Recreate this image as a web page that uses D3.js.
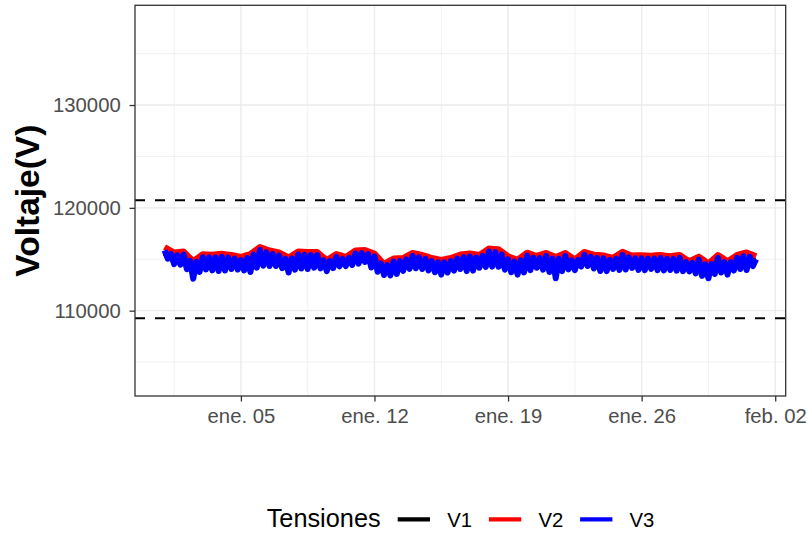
<!DOCTYPE html>
<html>
<head>
<meta charset="utf-8">
<script src="https://cdn.jsdelivr.net/npm/d3@7"></script>
<style>
  body { margin: 0; background: #fff; }
  text { font-family: "Liberation Sans", Arial, sans-serif; }
</style>
</head>
<body>
<svg id="chart" width="808" height="535"></svg>
<script>
// Series / legend
const seriesNames = ["V1", "V2", "V3"];
const seriesColors = ["#000000", "#FF0000", "#0000FF"];
const legendTitle = "Tensiones";
const yTitle = "Voltaje(V)";

// limits (dashed lines)
const limitValues = [120750, 109250];

// y ticks
const yTicks = [110000, 120000, 130000];
const yMinorTicks = [105000, 115000, 125000, 135000];
const yDomain = [101700, 139700];

// x ticks
const xTickDates = ["2015-01-05", "2015-01-12", "2015-01-19", "2015-01-26", "2015-02-02"];
const xTickLabels = ["ene. 05", "ene. 12", "ene. 19", "ene. 26", "feb. 02"];
const xMinorDates = ["2015-01-01T12:00Z", "2015-01-08T12:00Z", "2015-01-15T12:00Z", "2015-01-22T12:00Z", "2015-01-29T12:00Z"];

// readings, starting 2015-01-01 00:00, sampled every N hours
const startTime = Date.UTC(2015, 0, 1);
const stepHours = [12, 6, 4];

const v1Values = [
  115610, 115070, 115070, 114010, 114750, 114670, 114660, 114710, 114580, 114610,
  115270, 115070, 114980, 114420, 114920, 114860, 114950, 114370, 114880, 114760,
  115160, 115290, 114730, 113980, 114230, 114480, 114860, 114710, 114470, 114200,
  114440, 114740, 114640, 114770, 115150, 115100, 114540, 114210, 114710, 114720,
  114730, 114320, 114810, 114440, 115060, 114750, 114540, 114570, 114800, 114730,
  114610, 114680, 114630, 114600, 114620, 114290, 114370, 113840, 114590, 114140,
  114740, 114780, 114890
];

const v2Values = [
  116190, 115920, 115640, 115700, 115750, 115290, 114830, 115160, 115490, 115470,
  115450, 115490, 115530, 115470, 115410, 115320, 115220, 115370, 115510, 115850,
  116190, 116020, 115850, 115760, 115660, 115420, 115170, 115460, 115750, 115730,
  115710, 115710, 115710, 115320, 114930, 115220, 115510, 115370, 115220, 115540,
  115850, 115880, 115900, 115730, 115560, 115050, 114540, 114810, 115070, 115100,
  115120, 115370, 115610, 115510, 115410, 115270, 115120, 115030, 114930, 115030,
  115120, 115290, 115460, 115510, 115560, 115490, 115410, 115730, 116050, 116010,
  115970, 115630, 115290, 115120, 114950, 115300, 115640, 115480, 115320, 115470,
  115610, 115420, 115220, 115420, 115610, 115300, 114980, 115350, 115710, 115580,
  115440, 115410, 115370, 115260, 115140, 115430, 115720, 115540, 115360, 115380,
  115390, 115370, 115340, 115380, 115410, 115350, 115290, 115360, 115420, 115110,
  114800, 115030, 115260, 114930, 114590, 115000, 115410, 115110, 114800, 115110,
  115420, 115540, 115660, 115480, 115290
];

const v3Values = [
  115860, 115050, 115520, 114530, 115390, 114470, 115460, 114030, 114850, 113100,
  114760, 113770, 115200, 114010, 115180, 113920, 115190, 113860, 115240, 113910,
  115160, 114050, 115060, 114000, 114930, 113910, 115120, 113760, 115450, 114180,
  115900, 114370, 115670, 114340, 115500, 114340, 115370, 114130, 115040, 113710,
  115080, 113990, 115460, 114100, 115430, 114050, 115420, 114180, 115420, 114110,
  114900, 113840, 114830, 114140, 115220, 114310, 115030, 114340, 115140, 114450,
  115560, 114580, 115590, 114730, 115500, 114200, 115270, 113780, 114590, 113470,
  114430, 113430, 114780, 113570, 114820, 113870, 114990, 114060, 115320, 114120,
  115190, 114050, 115030, 113920, 114830, 113740, 114700, 113510, 114700, 113710,
  114830, 113890, 115060, 114050, 115200, 113850, 115270, 113890, 115170, 114170,
  115330, 114250, 115750, 114280, 115700, 114270, 115450, 113980, 115000, 113730,
  114770, 113510, 114890, 113720, 115350, 113940, 115130, 114170, 115120, 113990,
  115320, 113760, 115060, 113150, 115060, 113850, 115320, 114020, 114900, 113950,
  114930, 114290, 115420, 114340, 115240, 114100, 115130, 113860, 115080, 113850,
  114930, 114050, 115040, 113970, 115420, 114000, 115180, 114150, 115080, 113970,
  115090, 113940, 115060, 114070, 115070, 113940, 115120, 113910, 115040, 113950,
  115040, 113890, 115130, 113840, 114720, 113820, 114660, 113620, 114970, 113380,
  114520, 113150, 114570, 113580, 115120, 113710, 114720, 113510, 114720, 113900,
  115130, 114050, 115290, 113950, 115240, 114340, 115000
];

const allValues = [v1Values, v2Values, v3Values];

const svg = d3.select(document.getElementById("chart")),
  width = +svg.attr("width"),
  height = +svg.attr("height");

const panel = { left: 135, top: 5.3, right: 785.7, bottom: 396 };

// build series with timestamps
const series = seriesNames.map(function (name, s) {
  return {
    name: name,
    color: seriesColors[s],
    points: allValues[s].map(function (v, i) {
      return { t: new Date(startTime + i * stepHours[s] * 3600 * 1000), v: v };
    })
  };
});

// x scale with ggplot-like 5% expansion
const tExtent = d3.extent(series.flatMap(d => d.points), d => d.t);
const span = tExtent[1] - tExtent[0];
const x = d3.scaleUtc()
  .domain([new Date(+tExtent[0] - 0.05 * span), new Date(+tExtent[1] + 0.05 * span)])
  .range([panel.left, panel.right]);

const y = d3.scaleLinear()
  .domain(yDomain)
  .range([panel.bottom, panel.top]);

svg.append("rect").attr("width", width).attr("height", height).attr("fill", "#fff");

// clip
svg.append("clipPath").attr("id", "clip")
  .append("rect")
  .attr("x", panel.left).attr("y", panel.top)
  .attr("width", panel.right - panel.left).attr("height", panel.bottom - panel.top);

const grid = svg.append("g");

// minor grid
grid.selectAll(".ymin").data(yMinorTicks).enter().append("line")
  .attr("x1", panel.left).attr("x2", panel.right)
  .attr("y1", d => y(d)).attr("y2", d => y(d))
  .attr("stroke", "#EBEBEB").attr("stroke-width", 0.7);
grid.selectAll(".xmin").data(xMinorDates).enter().append("line")
  .attr("x1", d => x(new Date(d))).attr("x2", d => x(new Date(d)))
  .attr("y1", panel.top).attr("y2", panel.bottom)
  .attr("stroke", "#EBEBEB").attr("stroke-width", 0.7);

// major grid
grid.selectAll(".ymaj").data(yTicks).enter().append("line")
  .attr("x1", panel.left).attr("x2", panel.right)
  .attr("y1", d => y(d)).attr("y2", d => y(d))
  .attr("stroke", "#EBEBEB").attr("stroke-width", 1.4);
grid.selectAll(".xmaj").data(xTickDates).enter().append("line")
  .attr("x1", d => x(new Date(d))).attr("x2", d => x(new Date(d)))
  .attr("y1", panel.top).attr("y2", panel.bottom)
  .attr("stroke", "#EBEBEB").attr("stroke-width", 1.4);

const plotArea = svg.append("g").attr("clip-path", "url(#clip)");

// dashed limit lines
plotArea.selectAll(".limit").data(limitValues).enter().append("line")
  .attr("x1", panel.left).attr("x2", panel.right)
  .attr("y1", d => y(d)).attr("y2", d => y(d))
  .attr("stroke", "#000").attr("stroke-width", 2)
  .attr("stroke-dasharray", "10,10");

// series lines
const line = d3.line()
  .x(d => x(d.t))
  .y(d => y(d.v));

plotArea.selectAll(".serie").data(series).enter().append("path")
  .attr("d", d => line(d.points))
  .attr("fill", "none")
  .attr("stroke", d => d.color)
  .attr("stroke-width", 6)
  .attr("stroke-linejoin", "round")
  .attr("stroke-linecap", "butt");

// panel border
svg.append("rect")
  .attr("x", panel.left).attr("y", panel.top)
  .attr("width", panel.right - panel.left).attr("height", panel.bottom - panel.top)
  .attr("fill", "none").attr("stroke", "#333333").attr("stroke-width", 1.3);

// axes
const xAxis = svg.append("g")
  .attr("transform", "translate(0," + panel.bottom + ")")
  .call(d3.axisBottom(x)
    .tickValues(xTickDates.map(d => new Date(d)))
    .tickFormat((d, i) => xTickLabels[i])
    .tickSize(5.5).tickPadding(6.8));

const yAxis = svg.append("g")
  .attr("transform", "translate(" + panel.left + ",0)")
  .call(d3.axisLeft(y)
    .tickValues(yTicks)
    .tickFormat(d3.format("d"))
    .tickSize(5.5).tickPadding(8.8));

[xAxis, yAxis].forEach(function (a) {
  a.select(".domain").remove();
  a.selectAll(".tick line").attr("stroke", "#333333").attr("stroke-width", 1.3);
  a.selectAll(".tick text")
    .attr("fill", "#4D4D4D")
    .style("font-size", "20.3px")
    .style("font-family", "'Liberation Sans', Arial, sans-serif");
});

// y title
svg.append("text")
  .attr("transform", "translate(38.5," + ((panel.top + panel.bottom) / 2) + ") rotate(-90)")
  .attr("text-anchor", "middle")
  .style("font-size", "33.5px")
  .style("font-weight", "bold")
  .attr("fill", "#000")
  .text(yTitle);

// legend
const legend = svg.append("g");
const legendBaseline = 526.5;
const keyY = 519.3;
const keyStart = 397.7, keyLen = 32.3, itemStep = 91.2, labelOffset = 49.5;

legend.append("text")
  .attr("x", 266.7).attr("y", legendBaseline + 0.3)
  .style("font-size", "25.3px")
  .attr("fill", "#000")
  .text(legendTitle);

const items = legend.selectAll(".item").data(series).enter().append("g");
items.append("line")
  .attr("x1", (d, i) => keyStart + i * itemStep)
  .attr("x2", (d, i) => keyStart + i * itemStep + keyLen)
  .attr("y1", keyY).attr("y2", keyY)
  .attr("stroke", d => d.color).attr("stroke-width", 4.2);
items.append("text")
  .attr("x", (d, i) => keyStart + i * itemStep + labelOffset)
  .attr("y", legendBaseline)
  .style("font-size", "20.3px")
  .attr("fill", "#000")
  .text(d => d.name);
</script>
</body>
</html>
